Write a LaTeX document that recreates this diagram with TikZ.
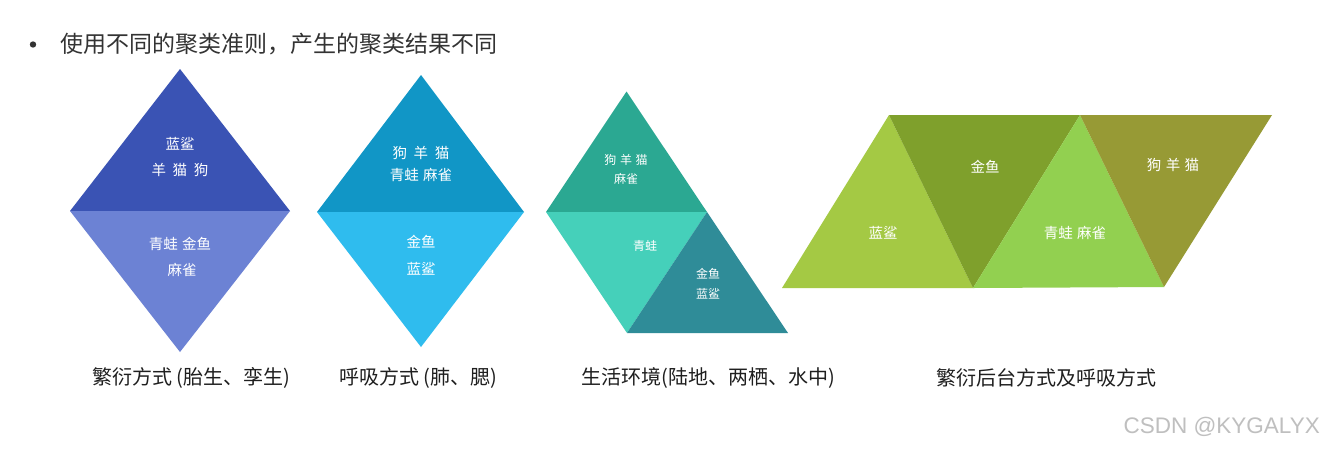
\documentclass[tikz,border=0pt]{standalone}
\usepackage{fontspec}
\setmainfont{Noto Sans CJK SC}
\newfontfamily\wmfont{Liberation Sans}
\newcommand{\gapA}{\hspace{0.45em}}
\newcommand{\gapB}{\hspace{0.3em}}
\begin{document}
\begin{tikzpicture}[x=1pt,y=-1pt,
  intxt/.style={text=white,font=\fontsize{14.5}{17}\selectfont,align=center,inner sep=0pt},
  smtxt/.style={text=white,font=\fontsize{12}{15}\selectfont,align=center,inner sep=0pt},
  captxt/.style={text=black!88,font=\fontsize{20}{23}\selectfont,inner sep=0pt},
  piece/.style={draw=none}]
\useasboundingbox[fill=white] (0,0) rectangle (1324,448);
\definecolor{bA}{HTML}{3A53B4}
\definecolor{bB}{HTML}{6C82D4}
\definecolor{cA}{HTML}{1196C6}
\definecolor{cB}{HTML}{2FBCEE}
\definecolor{tA}{HTML}{2BA892}
\definecolor{tB}{HTML}{45D0BA}
\definecolor{tC}{HTML}{2F8C98}
\definecolor{gA}{HTML}{A4C944}
\definecolor{gB}{HTML}{7FA02C}
\definecolor{gC}{HTML}{92D050}
\definecolor{gD}{HTML}{979A35}
% title
\fill[black!80] (33,44.5) circle (3.2) coordinate (bullet);
\node[text=black!80,font=\fontsize{23}{27}\selectfont,inner sep=0pt,anchor=west] (title) at (60,44) {使用不同的聚类准则，产生的聚类结果不同};
% diamond 1
\fill[bA] (180,69) -- (290,211) -- (70,211) -- cycle;
\fill[bB] (70,211) -- (290,211) -- (180,352) -- cycle;
\node[intxt] (d1a) at (180,144) {蓝鲨};
\node[intxt] (d1b) at (180,170) {羊\gapA{}猫\gapA{}狗};
\node[intxt] (d1c) at (180,244) {青蛙\gapB{}金鱼};
\node[intxt] (d1d) at (182,270) {麻雀};
% diamond 2
\fill[cA] (421,75) -- (524,212) -- (317,212) -- cycle;
\fill[cB] (317,212) -- (524,212) -- (421,347) -- cycle;
\node[intxt] (d2a) at (421,153) {狗\gapA{}羊\gapA{}猫};
\node[intxt] (d2b) at (421,175) {青蛙\gapB{}麻雀};
\node[intxt] (d2c) at (421,242) {金鱼};
\node[intxt] (d2d) at (421,269) {蓝鲨};
% third shape
\fill[tA] (626.5,91.5) -- (707,212) -- (546,212) -- cycle;
\fill[tB] (546,212) -- (707,212) -- (627,333) -- cycle;
\fill[tC] (707,212) -- (788,333) -- (627,333) -- cycle;
\node[smtxt] (t1a) at (626,160) {狗\gapB{}羊\gapB{}猫};
\node[smtxt] (t1b) at (626,179) {麻雀};
\node[smtxt] (t2a) at (645,246) {青蛙};
\node[smtxt] (t3a) at (708,274) {金鱼};
\node[smtxt] (t3b) at (708,294) {蓝鲨};
% fourth shape
\fill[gA] (889,115) -- (973,288) -- (782,288) -- cycle;
\fill[gB] (889,115) -- (1080,115) -- (973,288) -- cycle;
\fill[gC] (1080,115) -- (1164,287) -- (973,288) -- cycle;
\fill[gD] (1080,115) -- (1272,115) -- (1164,287) -- cycle;
\node[intxt] (g1) at (883,233) {蓝鲨};
\node[intxt] (g2) at (985,167) {金鱼};
\node[intxt] (g3) at (1075,233) {青蛙\gapB{}麻雀};
\node[intxt] (g4) at (1173,165) {狗\gapB{}羊\gapB{}猫};
% captions
\node[captxt] (cap1) at (191,378) {繁衍方式 (胎生、孪生)};
\node[captxt] (cap2) at (418,378) {呼吸方式 (肺、腮)};
\node[captxt] (cap3) at (708,378) {生活环境(陆地、两栖、水中)};
\node[captxt] (cap4) at (1046,378) {繁衍后台方式及呼吸方式};
% watermark
\node[text=black!25,font=\wmfont\fontsize{22.5}{26}\selectfont,inner sep=0pt,anchor=east] (wm) at (1320,427) {CSDN @KYGALYX};
\end{tikzpicture}
\end{document}
